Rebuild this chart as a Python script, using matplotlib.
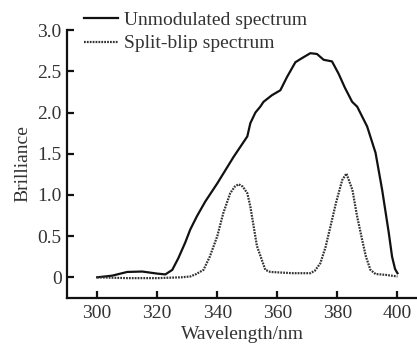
import matplotlib.pyplot as plt
import numpy as np

plt.rcParams['font.family'] = ['Liberation Serif', 'DejaVu Serif']

# Unmodulated spectrum (solid)
wl_unmod = [300, 305, 310, 315, 320, 322.7, 325, 327, 329.3, 331, 333.2, 336, 340,
            345.4, 350, 351, 352.7, 354.3, 355.4, 358.2, 361, 363.2, 366, 368.2,
            371, 373.2, 375.4, 378.2, 380.4, 382.5, 384.9, 386.6, 389.9, 392.7,
            394.9, 397.1, 398.2, 399.2, 400]
br_unmod = [0.0, 0.02, 0.065, 0.07, 0.045, 0.035, 0.09, 0.23, 0.42, 0.58, 0.74, 0.92,
            1.14, 1.46, 1.71, 1.87, 2.0, 2.07, 2.13, 2.21, 2.27, 2.43, 2.61, 2.66,
            2.72, 2.71, 2.64, 2.62, 2.47, 2.3, 2.13, 2.07, 1.83, 1.51, 1.06,
            0.54, 0.25, 0.1, 0.05]

# Split-blip spectrum (dotted)
wl_split = [300, 310, 320, 328, 331, 333, 335.4, 337.5, 340, 342, 344.3, 345.8,
            347.1, 348.5, 350, 351, 353.2, 356, 357.7, 365, 371, 372.5, 374.3,
            376, 377.7, 379.5, 381.6, 383, 385, 386.5, 388.2, 389.5, 391, 392.7,
            396, 400]
br_split = [0.0, -0.01, -0.01, 0.0, 0.01, 0.04, 0.09, 0.25, 0.5, 0.78, 1.02, 1.1,
            1.13, 1.1, 1.02, 0.86, 0.38, 0.09, 0.065, 0.05, 0.05, 0.08, 0.17,
            0.36, 0.62, 0.9, 1.18, 1.26, 1.06, 0.75, 0.46, 0.25, 0.09, 0.04,
            0.03, 0.01]

xticks = [300, 320, 340, 360, 380, 400]
yticks = [0, 0.5, 1.0, 1.5, 2.0, 2.5, 3.0]
ytick_labels = ['0', '0.5', '1.0', '1.5', '2.0', '2.5', '3.0']

fig = plt.figure(figsize=(4.17, 3.46), dpi=100)
ax = fig.add_axes([0.161, 0.139, 0.839, 0.774])

ax.plot(wl_unmod, br_unmod, '-', color='#111111', linewidth=1.6,
        label='Unmodulated spectrum')
ax.plot(wl_split, br_split, color='#333333', linewidth=1.6,
        linestyle=(0, (0.8, 0.5)), label='Split-blip spectrum')

ax.set_xlim(290, 406.5)
ax.set_ylim(-0.25, 3.0)
ax.set_xticks(xticks)
ax.set_yticks(yticks)
ax.set_yticklabels(ytick_labels)

for side in ['top', 'right']:
    ax.spines[side].set_visible(False)
for side in ['left', 'bottom']:
    ax.spines[side].set_linewidth(1.6)
    ax.spines[side].set_color('#111111')

ax.tick_params(direction='in', length=5, width=1.6, labelsize=14,
               colors='#111111', labelcolor='#333333')
ax.tick_params(axis='x', pad=5)
ax.tick_params(axis='y', pad=4)

ax.set_xlabel('Wavelength/nm', fontsize=14, color='#333333', labelpad=3)
ax.set_ylabel('Brilliance', fontsize=14, color='#333333', labelpad=4)

fig.legend(loc='upper left', bbox_to_anchor=(0.16, 1.018), frameon=False,
           fontsize=14, handlelength=1.75, handletextpad=0.3, labelspacing=0.3,
           labelcolor='#333333')

plt.savefig('out.png', dpi=100, facecolor='white')
